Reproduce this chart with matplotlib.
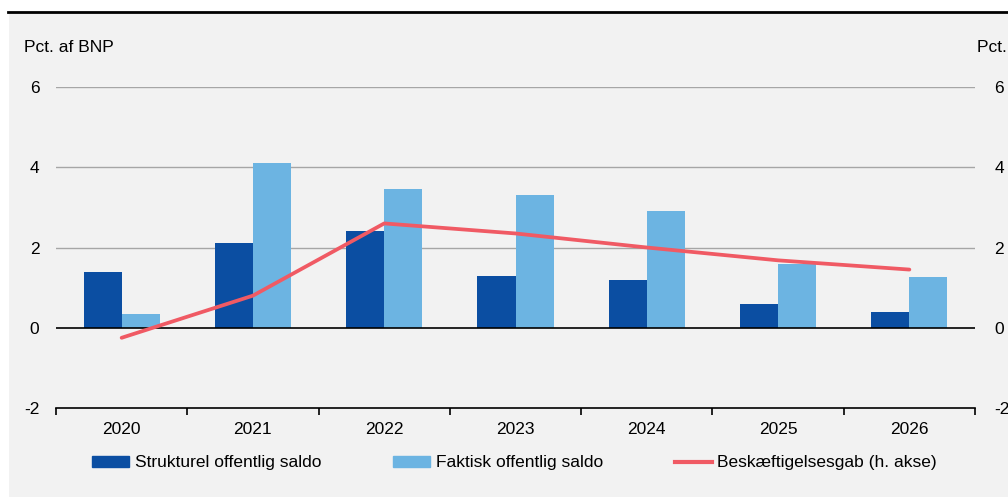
import matplotlib
matplotlib.use("Agg")
import matplotlib.pyplot as plt
import numpy as np
from matplotlib.patches import Rectangle
from matplotlib.lines import Line2D

years = ["2020", "2021", "2022", "2023", "2024", "2025", "2026"]
strukturel = [1.4, 2.1, 2.4, 1.3, 1.2, 0.6, 0.4]
faktisk = [0.35, 4.1, 3.45, 3.3, 2.9, 1.6, 1.27]
gab = [-0.25, 0.8, 2.6, 2.35, 2.0, 1.68, 1.45]

DARK = "#0b4ea2"
LIGHT = "#6cb4e2"
RED = "#f05a64"
BG = "#f2f2f2"

plt.rcParams["font.family"] = ["Liberation Sans", "DejaVu Sans"]
plt.rcParams["axes.unicode_minus"] = False
FS = 12.5

fig = plt.figure(figsize=(10.08, 4.97), dpi=100)
W, H = 1008, 497
# gray panel
fig.patches.append(Rectangle((9 / W, 0), 1 - 9 / W, 1 - 14 / H, transform=fig.transFigure,
                             facecolor=BG, edgecolor="none", zorder=-10))
fig.lines.append(Line2D([8 / W, 1], [1 - 12 / H, 1 - 12 / H], transform=fig.transFigure,
                        color="black", lw=2))

ax = fig.add_axes([56 / W, 1 - 408 / H, (975 - 56) / W, (408 - 87) / H])
ax.set_facecolor("none")
x = np.arange(len(years))
bw = 0.29
ax.bar(x - bw / 2, strukturel, bw, color=DARK, zorder=3, label="Strukturel offentlig saldo")
ax.bar(x + bw / 2, faktisk, bw, color=LIGHT, zorder=3, label="Faktisk offentlig saldo")
ax.set_xlim(-0.5, len(years) - 0.5)
ax.set_ylim(-2, 6)
ax.set_yticks([-2, 0, 2, 4, 6])
for yv in [2, 4, 6]:
    ax.axhline(yv, color="#a6a6a6", lw=1, zorder=1)
ax.axhline(0, color="black", lw=1.2, zorder=4)
for s in ["top", "left", "right"]:
    ax.spines[s].set_visible(False)
ax.spines["bottom"].set_color("black")
ax.spines["bottom"].set_linewidth(1.2)
ax.set_xticks(x)
ax.set_xticklabels(years, fontsize=FS)
ax.tick_params(axis="x", which="major", length=0, pad=10)
ax.set_xticks(np.arange(-0.5, len(years), 1.0), minor=True)
ax.tick_params(axis="x", which="minor", length=5, width=1.2, direction="out", color="black")
ax.tick_params(axis="y", length=0, pad=12, labelsize=FS)

ax2 = ax.twinx()
ax2.set_ylim(-2, 6)
ax2.set_yticks([-2, 0, 2, 4, 6])
ax2.tick_params(axis="y", length=0, pad=14, labelsize=FS)
for s in ["top", "left", "right", "bottom"]:
    ax2.spines[s].set_visible(False)
ax2.plot(x, gab, color=RED, lw=2.7, solid_capstyle="round", zorder=5,
         label="Beskæftigelsesgab (h. akse)")

fig.text(24 / W, 1 - 48 / H, "Pct. af BNP", fontsize=FS, ha="left", va="center")
fig.text(977 / W, 1 - 48 / H, "Pct. af BNP", fontsize=FS, ha="left", va="center")

handles = [Rectangle((0, 0), 1, 1, color=DARK), Rectangle((0, 0), 1, 1, color=LIGHT),
           Line2D([], [], color=RED, lw=3)]
labels = ["Strukturel offentlig saldo", "Faktisk offentlig saldo", "Beskæftigelsesgab (h. akse)"]
leg = fig.legend(handles, labels, ncol=3, loc="center left",
                 bbox_to_anchor=(92 / W, 1 - 463 / H), frameon=False, fontsize=FS,
                 handlelength=2.15, handleheight=0.55, handletextpad=0.3,
                 columnspacing=4.15, borderpad=0, borderaxespad=0)

fig.savefig("out.png", dpi=100)
